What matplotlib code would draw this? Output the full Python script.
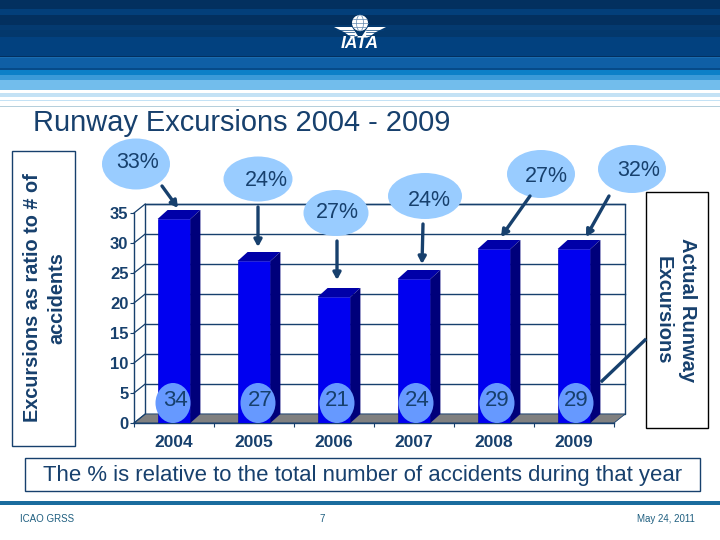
import matplotlib
matplotlib.use('Agg')
import numpy as np
import matplotlib.pyplot as plt
from matplotlib.patches import Polygon, Ellipse, Rectangle, Circle

plt.rcParams['font.family'] = ['Liberation Sans', 'DejaVu Sans']

years = ['2004', '2005', '2006', '2007', '2008', '2009']
excursions = [34, 27, 21, 24, 29, 29]
percents = ['33%', '24%', '27%', '24%', '27%', '32%']
yticks = [0, 5, 10, 15, 20, 25, 30, 35]

# callout layout, in pixels of the slide
bubble_xy = [(136, 164), (258, 179), (336, 213), (425, 196), (541, 174), (632, 169)]
bubble_wh = [(68, 51), (69, 45), (65, 46), (74, 46), (68, 48), (68, 48)]
text_xy = [(138, 163), (266, 181), (337, 213), (429, 201), (546, 176), (639, 171)]
arrow_from = [(162, 186), (258, 207), (337, 241), (423, 224), (530, 196), (609, 196)]
arrow_to = [(178, 208), (258, 247), (337, 280), (422, 264), (501, 237), (586, 237)]
circle_x = [173, 258, 337, 416, 497, 576]
number_x = [175, 260, 337, 417, 497, 576]

# header stripes: top, bottom, colour
stripes = [(0, 9, '#03305f'), (9, 15, '#033f7a'), (15, 25, '#03305f'), (25, 30, '#043a70'),
           (30, 37, '#03386c'), (37, 56, '#02417f'), (56, 57, '#03305f'), (57, 58, '#1a6cb0'),
           (58, 68, '#0f5fa5'), (68, 70, '#064a88'), (70, 75, '#0c80c8'), (75, 80, '#3a9ad8'),
           (80, 90, '#72bdec'), (90, 93, '#ffffff'), (93, 97, '#c4e2f5'), (97, 100, '#ffffff'),
           (100, 101, '#c4e2f5'), (106, 107, '#b5cfdc')]

navy = '#17406d'
W, H = 720, 540

fig = plt.figure(figsize=(7.2, 5.4), dpi=100, facecolor='white')

# slide layer, y goes down like the picture
bg = fig.add_axes([0, 0, 1, 1], zorder=0)
bg.set_xlim(0, W)
bg.set_ylim(H, 0)
bg.axis('off')
for top, bottom, col in stripes:
    bg.add_patch(Rectangle((0, top), W, bottom - top, fc=col, ec='none'))

# logo
bg.add_patch(Circle((360, 23), 8, fc='white', ec='none'))
bg.plot([352, 368], [23, 23], color='#5f86ad', lw=0.5)
bg.plot([353, 367], [19, 19], color='#5f86ad', lw=0.5)
bg.plot([353, 367], [27, 27], color='#5f86ad', lw=0.5)
bg.add_patch(Ellipse((360, 23), 7, 16, fc='none', ec='#5f86ad', lw=0.5))
bg.add_patch(Polygon([(334, 27), (352, 27), (358, 36), (351, 37), (344, 32)], fc='white', ec='none'))
bg.add_patch(Polygon([(386, 27), (368, 27), (362, 36), (369, 37), (376, 32)], fc='white', ec='none'))
for yy, x0 in [(29.5, 337), (32, 342), (34.5, 347)]:
    bg.plot([x0, 354], [yy, yy], color='#033f7a', lw=0.5)
    bg.plot([720 - x0, 366], [yy, yy], color='#033f7a', lw=0.5)
bg.text(360, 43.5, 'IATA', color='white', fontsize=12.5, fontweight='bold', style='italic',
        ha='center', va='center')

bg.text(33, 123, 'Runway Excursions 2004 - 2009', color=navy, fontsize=20.85, ha='left', va='center')

bg.add_patch(Rectangle((11.5, 150.5), 63, 295.5, fc='white', ec=navy, lw=1))
bg.text(44.5, 298, 'Excursions as ratio to # of\naccidents', color=navy, fontsize=14.3,
        fontweight='bold', rotation=90, ha='center', va='center', multialignment='center',
        linespacing=1.35)
bg.add_patch(Rectangle((646, 192), 62, 236, fc='white', ec='black', lw=1))
bg.text(675.5, 310, 'Actual Runway\nExcursions', color=navy, fontsize=14.5,
        fontweight='bold', rotation=270, ha='center', va='center', multialignment='center',
        linespacing=1.4)

bg.add_patch(Rectangle((25, 458), 675, 33, fc='white', ec=navy, lw=1))
bg.text(363, 475, 'The % is relative to the total number of accidents during that year',
        color=navy, fontsize=15.9, ha='center', va='center')
bg.add_patch(Rectangle((0, 501), W, 4, fc='#1a6c9e', ec='none'))
bg.text(20, 519, 'ICAO GRSS', color='#1f5f80', fontsize=7, ha='left', va='center')
bg.text(322, 519, '7', color='#1f5f80', fontsize=7, ha='center', va='center')
bg.text(695, 519, 'May 24, 2011', color='#1f5f80', fontsize=7, ha='right', va='center')

# chart layer, front plane 134..614 across, 423..213 down
ax = fig.add_axes([134 / W, 1 - 423 / H, 480 / W, 210 / H], zorder=1)
ax.set_xlim(0, len(years))
ax.set_ylim(0, 35)
ax.patch.set_alpha(0)
for s in ['top', 'right']:
    ax.spines[s].set_visible(False)
for s in ['left', 'bottom']:
    ax.spines[s].set_color(navy)
    ax.spines[s].set_linewidth(1)

dx, dy = 0.14, 1.5  # depth of the back wall
n = len(years)
ax.add_patch(Polygon([(dx, dy), (n + dx, dy), (n + dx, 35 + dy), (dx, 35 + dy)],
                     fc='white', ec=navy, lw=1, clip_on=False, zorder=1))
ax.add_patch(Polygon([(0, 0), (n, 0), (n + dx, dy), (dx, dy)],
                     fc='#808080', ec=navy, lw=0.6, clip_on=False, zorder=2))
for t in yticks:
    ax.plot([0, dx], [t, t + dy], color=navy, lw=0.9, clip_on=False, zorder=2)
    if t > 0:
        ax.plot([dx, n + dx], [t + dy, t + dy], color=navy, lw=1, clip_on=False, zorder=2)

bw = 0.41
bdx, bdy = 0.125, 1.5  # depth of a bar
xs = np.arange(n) + 0.5
ax.bar(xs, excursions, width=bw, color='#0000f0', edgecolor='#0000c8', linewidth=0.5, zorder=4)
for x, v in zip(xs, excursions):
    l, r = x - bw / 2, x + bw / 2
    ax.add_patch(Polygon([(l, v), (r, v), (r + bdx, v + bdy), (l + bdx, v + bdy)],
                         fc='#0000a8', ec='none', clip_on=False, zorder=4))
    ax.add_patch(Polygon([(r, 0), (r + bdx, bdy), (r + bdx, v + bdy), (r, v)],
                         fc='#00007a', ec='none', clip_on=False, zorder=4))

ax.set_xticks(np.arange(n + 1))
ax.set_xticklabels([])
ax.set_yticks(yticks)
ax.set_yticklabels([str(t) for t in yticks], color=navy, fontsize=12, fontweight='bold')
ax.tick_params(axis='both', color=navy, length=3, width=0.8)
ax.tick_params(axis='y', pad=1)
for x, y in zip(xs, years):
    ax.annotate(y, (x, 0), xytext=(0, -14), textcoords='offset points', color=navy, fontsize=12.5,
                fontweight='bold', ha='center', va='center')

# callouts on top of the chart
top = fig.add_axes([0, 0, 1, 1], zorder=2)
top.set_xlim(0, W)
top.set_ylim(H, 0)
top.axis('off')
for i in range(n):
    w, h = bubble_wh[i]
    top.add_patch(Ellipse(bubble_xy[i], w, h, fc='#99ccff', ec='none'))
    top.text(text_xy[i][0], text_xy[i][1], percents[i], color=navy, fontsize=15.5, ha='center', va='center')
    top.annotate('', xy=arrow_to[i], xytext=arrow_from[i],
                 arrowprops=dict(arrowstyle='-|>,head_width=0.22,head_length=0.4', color=navy, lw=2.4,
                                 shrinkA=0, shrinkB=0))
    top.add_patch(Ellipse((circle_x[i], 403), 35, 40, fc='#6699ff', ec='none'))
    top.text(number_x[i], 401, str(excursions[i]), color=navy, fontsize=16, ha='center', va='center')
top.plot([645, 602], [340, 381], color=navy, lw=2.4)

fig.savefig('out.png', dpi=100)
